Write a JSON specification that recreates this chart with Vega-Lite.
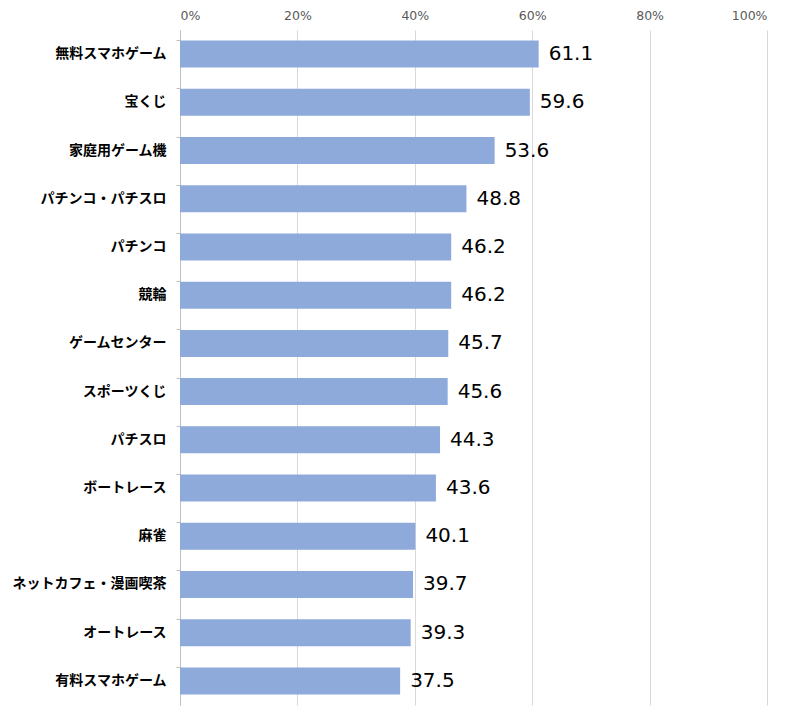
{
  "$schema": "https://vega.github.io/schema/vega-lite/v6.json",
  "width": 587,
  "height": 675,
  "autosize": {"type": "none"},
  "padding": {"left": 180, "top": 30, "right": 34, "bottom": 15},
  "background": "white",
  "config": {"view": {"stroke": null}, "font": "Noto Sans CJK JP"},
  "data": {
    "values": [
      {"item": "無料スマホゲーム", "pct": 61.1},
      {"item": "宝くじ", "pct": 59.6},
      {"item": "家庭用ゲーム機", "pct": 53.6},
      {"item": "パチンコ・パチスロ", "pct": 48.8},
      {"item": "パチンコ", "pct": 46.2},
      {"item": "競輪", "pct": 46.2},
      {"item": "ゲームセンター", "pct": 45.7},
      {"item": "スポーツくじ", "pct": 45.6},
      {"item": "パチスロ", "pct": 44.3},
      {"item": "ボートレース", "pct": 43.6},
      {"item": "麻雀", "pct": 40.1},
      {"item": "ネットカフェ・漫画喫茶", "pct": 39.7},
      {"item": "オートレース", "pct": 39.3},
      {"item": "有料スマホゲーム", "pct": 37.5}
    ]
  },
  "encoding": {
    "y": {
      "field": "item",
      "type": "nominal",
      "sort": null,
      "title": null,
      "scale": {"paddingInner": 0.44, "paddingOuter": 0.22},
      "axis": {
        "labelFontSize": 14,
        "labelFontWeight": "bold",
        "labelColor": "#000000",
        "labelPadding": 10,
        "domainColor": "#bfbfbf",
        "tickColor": "#bfbfbf",
        "tickSize": 4,
        "bandPosition": 0
      }
    },
    "x": {
      "field": "pct",
      "type": "quantitative",
      "title": null,
      "scale": {"domain": [0, 100]},
      "axis": {
        "orient": "top",
        "values": [0, 20, 40, 60, 80, 100],
        "labelExpr": "datum.value + '%'",
        "labelFont": "DejaVu Sans",
        "labelFontSize": 12.5,
        "labelColor": "#595959",
        "domain": false,
        "ticks": false,
        "labelPadding": 8,
        "gridColor": "#d9d9d9"
      }
    }
  },
  "layer": [
    {"mark": {"type": "bar", "color": "#8eaadb"}},
    {
      "mark": {"type": "text", "align": "left", "dx": 10, "font": "DejaVu Sans", "fontSize": 20, "color": "#000000"},
      "encoding": {"text": {"field": "pct", "type": "quantitative", "format": ".1f"}}
    }
  ]
}
